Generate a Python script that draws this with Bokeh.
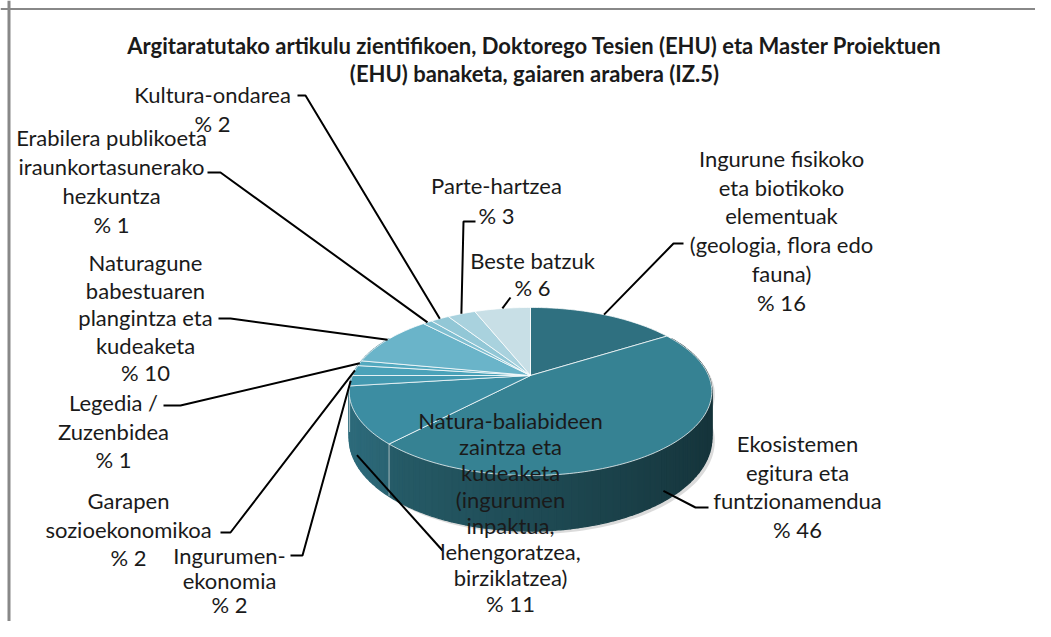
import numpy as np
from bokeh.plotting import figure
from bokeh.models import Range1d, Span
from bokeh.core.properties import value
from bokeh.embed import file_html
from bokeh.resources import INLINE

# ---------------- data ----------------
title_lines = [
    "Argitaratutako artikulu zientifikoen, Doktorego Tesien (EHU) eta Master Proiektuen",
    "(EHU) banaketa, gaiaren arabera (IZ.5)",
]
categories = [
    "Ingurune fisikoko\neta biotikoko\nelementuak\n(geologia, flora edo\nfauna)",
    "Ekosistemen\negitura eta\nfuntzionamendua",
    "Natura-baliabideen\nzaintza eta\nkudeaketa\n(ingurumen\ninpaktua,\nlehengoratzea,\nbirziklatzea)",
    "Ingurumen-\nekonomia",
    "Garapen\nsozioekonomikoa",
    "Legedia /\nZuzenbidea",
    "Naturagune\nbabestuaren\nplangintza eta\nkudeaketa",
    "Erabilera publikoeta\niraunkortasunerako\nhezkuntza",
    "Kultura-ondarea",
    "Parte-hartzea",
    "Beste batzuk",
]
percent = [16, 46, 11, 2, 2, 1, 10, 1, 2, 3, 6]

# ---------------- styles / layout ----------------
colors = ["#2F7080", "#368293", "#3C8DA2", "#4399B0", "#4AA2B9", "#53A9BF",
          "#6AB4C9", "#80BFD1", "#92C7D6", "#A9D2DE", "#C8DFE6"]
# (center x, first line y, line spacing)
label_pos = [(781, 158, 28.7), (797, 443, 28.7), (510, 420, 26.2), (229, 555, 24.5),
             (128, 500, 28.5), (113, 402, 28.5), (145, 262, 27.5), (111, 137, 29),
             (212, 94, 29), (496, 185, 30), (532, 260, 27)]
leader_start = [(683, 243), (708, 507), (442, 550), (290, 555), (220, 532), (163, 405),
                (218, 318), (207, 172), (297, 95), (475, 221), (510, 297)]
leader_stub = [(673, 243), (695, 507), (442, 550), (302, 555), (230, 532), (180, 405),
               (230, 318), (220, 172), (305, 95), (463, 221), (510, 297)]
FONT = "Lato"

W, H_FIG = 1035, 621
p = figure(width=W, height=H_FIG, output_backend="svg", toolbar_location=None,
           x_range=Range1d(0, W), y_range=Range1d(H_FIG, 0),
           x_axis_type=None, y_axis_type=None, min_border=0)
p.grid.visible = False
p.outline_line_color = None
p.background_fill_color = "white"
p.border_fill_color = "white"

# pie geometry (perspective projected disc)
CX, CY, A, B, K, DEPTH = 530, 375, 178, 81, 0.19, 45


def proj(phi_deg, depth=0.0):
    ph = np.radians(phi_deg)
    X, Z = np.sin(ph), np.cos(ph)
    s = 1.0 / (1.0 + K * Z)
    return CX + A * X * s, CY - B * Z * s + depth * DEPTH * s


def hex_scale(h, f):
    r, g, b = int(h[1:3], 16), int(h[3:5], 16), int(h[5:7], 16)
    return "#%02x%02x%02x" % (int(min(255, r * f)), int(min(255, g * f)), int(min(255, b * f)))


bounds = np.concatenate([[0], np.cumsum(percent)]) * 3.6

# shadow
sh_ang = np.linspace(60, 300, 120)
sx, sy = proj(sh_ang, 1.0)
tx, ty = proj(sh_ang[::-1], 0.0)
p.patch(list(sx + 3) + list(tx + 3), list(sy + 3) + list(ty + 3), fill_color="#b0b0b0",
        fill_alpha=0.45, line_color=None)

# side walls
side_xs, side_ys, side_cols, side_z = [], [], [], []
for i in range(len(percent)):
    a0, a1 = max(bounds[i], 60), min(bounds[i + 1], 300)
    if a1 <= a0:
        continue
    n = max(1, int(np.ceil((a1 - a0) / 2.0)))
    edges = np.linspace(a0, a1, n + 1)
    for j in range(n):
        seg = np.linspace(edges[j], edges[j + 1], 4)
        ux, uy = proj(seg, 0.0)
        bx, by = proj(seg[::-1], 1.0)
        mid = np.radians(0.5 * (edges[j] + edges[j + 1]))
        f = 0.58 - 0.19 * np.sin(mid)
        side_xs.append(list(ux) + list(bx))
        side_ys.append(list(uy) + list(by))
        side_cols.append(hex_scale(colors[i], f))
        side_z.append(np.cos(mid))
order = np.argsort(side_z)[::-1]
p.patches([side_xs[k] for k in order], [side_ys[k] for k in order],
          fill_color=[side_cols[k] for k in order], line_color=[side_cols[k] for k in order],
          line_width=1.3)
# white edge between slices on the side
for b in bounds[1:-1]:
    if 90 < b < 270:
        ex0, ey0 = proj(b, 0.0)
        ex1, ey1 = proj(b, 1.0)
        p.line([ex0, ex1], [ey0, ey1], line_color="white", line_alpha=0.6, line_width=1)

# top surface
top_xs, top_ys = [], []
for i in range(len(percent)):
    ang = np.linspace(bounds[i], bounds[i + 1], max(3, int(percent[i] * 3.6)))
    ax_, ay_ = proj(ang, 0.0)
    top_xs.append([CX] + list(ax_))
    top_ys.append([CY] + list(ay_))
p.patches(top_xs, top_ys, fill_color=colors, line_color="white", line_alpha=0.75,
          line_width=1)

# leader lines
lxs, lys = [], []
for i in range(len(percent)):
    mid = 0.5 * (bounds[i] + bounds[i + 1])
    z = np.cos(np.radians(mid))
    ex, ey = proj(mid, 0.8 if z < -0.3 else 0.0)
    lxs.append([leader_start[i][0], leader_stub[i][0], ex])
    lys.append([leader_start[i][1], leader_stub[i][1], ey])
p.multi_line(lxs, lys, line_color="black", line_width=2)

# labels
tx_, ty_, tt_ = [], [], []
for i, name in enumerate(categories):
    lines = name.split("\n") + ["%% %d" % percent[i]]
    cx, y0, dy = label_pos[i]
    for j, ln in enumerate(lines):
        tx_.append(cx)
        ty_.append(y0 + j * dy)
        tt_.append(ln)
p.text(tx_, ty_, text=tt_, text_align="center", text_baseline="middle",
       text_font=value(FONT), text_font_size="22px", text_color="#1a1a1a")

# title
p.text([534, 534], [45, 73], text=title_lines, text_align="center", text_baseline="middle",
       text_font=value(FONT), text_font_size="22px", text_font_style="bold",
       text_color="#1a1a1a")

# chart-area border (only top and left visible in the view)
p.add_layout(Span(location=8.5, dimension="height", line_color="#888888", line_width=3))
p.add_layout(Span(location=8.5, dimension="width", line_color="#888888", line_width=2))

open("out.html", "w").write(file_html(p, INLINE))
